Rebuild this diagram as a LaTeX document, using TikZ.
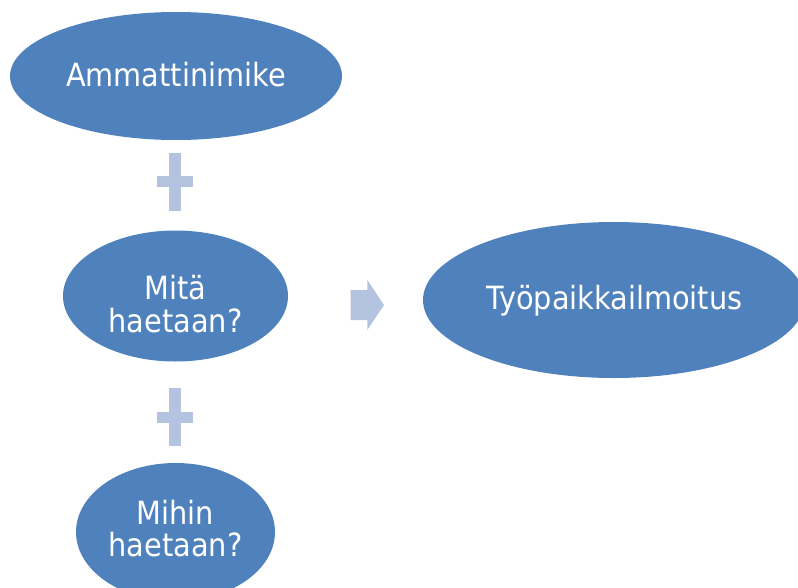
\documentclass[tikz,border=0pt]{standalone}
\usepackage{fontspec}
\setmainfont{DejaVu Sans Condensed}
\usetikzlibrary{shapes.geometric}
\definecolor{ovalblue}{RGB}{79,129,189}
\definecolor{signblue}{RGB}{180,196,224}
\tikzset{
  oval/.style={ellipse, fill=ovalblue, draw=none, inner sep=0pt},
  ovaltext/.style={anchor=base, inner sep=0pt, text=white, font=\fontsize{32}{33}\selectfont},
  sign/.style={fill=signblue, draw=none}
}
\begin{document}
\begin{tikzpicture}[x=1pt, y=-1pt]
  \useasboundingbox (0,0) rectangle (798,587);
  \clip (0,0) rectangle (798,587);
  % ovals
  \node[oval, minimum width=332pt, minimum height=128pt] (title) at (176,76) {};
  \node[oval, minimum width=225pt, minimum height=131pt] (what) at (175.5,296) {};
  \node[oval, minimum width=199pt, minimum height=138pt] (where) at (175.5,532) {};
  \node[oval, minimum width=382pt, minimum height=156pt] (ad) at (614,300) {};
  % oval texts, placed on their baselines
  \node[ovaltext] (titleT) at (176,86) {Ammattinimike};
  \node[ovaltext] (whatT1) at (175.5,299) {Mitä};
  \node[ovaltext] (whatT2) at (175.5,332) {haetaan?};
  \node[ovaltext] (whereT1) at (175.5,524) {Mihin};
  \node[ovaltext] (whereT2) at (175.5,556.7) {haetaan?};
  \node[ovaltext] (adT) at (614.5,309.3) {Työpaikkailmoitus};
  % plus signs between the ovals
  \fill[sign] (169.3,152.7) rectangle (181.3,210.7);
  \fill[sign] (157.3,176) rectangle (193.3,187.3);
  \fill[sign] (169.3,388) rectangle (181.3,446);
  \fill[sign] (157.3,411.7) rectangle (193.3,422.7);
  % arrow towards the result
  \fill[sign] (350.7,290) -- (367.3,290) -- (367.3,280) -- (384,305)
    -- (367.3,330) -- (367.3,320) -- (350.7,320) -- cycle;
\end{tikzpicture}
\end{document}
